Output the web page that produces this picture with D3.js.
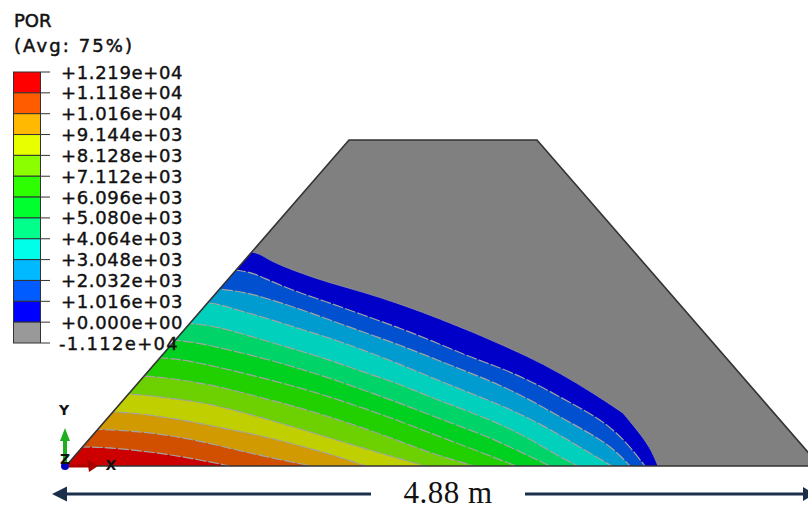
<!DOCTYPE html>
<html>
<head>
<meta charset="utf-8">
<script src="https://cdn.jsdelivr.net/npm/d3@7"></script>
<style>
  html, body { margin: 0; padding: 0; background: #fff; overflow: hidden; }
</style>
</head>
<body>
<div id="chart"></div>
<script>
// legend
const legendLabels = ["+1.219e+04", "+1.118e+04", "+1.016e+04", "+9.144e+03", "+8.128e+03", "+7.112e+03", "+6.096e+03",
  "+5.080e+03", "+4.064e+03", "+3.048e+03", "+2.032e+03", "+1.016e+03", "+0.000e+00", "-1.112e+04"];
const legendColors = ["#ff0000", "#ff5c00", "#ffb900", "#e8ff00", "#8bff00", "#2eff00", "#00ff2e",
  "#00ff8b", "#00ffe8", "#00b9ff", "#005cff", "#0000ff", "#999999"];

// shaded fill of each band on the model, from the toe upward
const bandColors = ["#cc0000", "#d05000", "#d09a00", "#c0cf00", "#6dd000", "#22d000",
  "#00d020", "#00d468", "#00d0bc", "#009ccf", "#0050cf", "#0000c8"];

// section outline, in mesh units (754 units = the 4.88 m base)
const damOutline = [[0, 0], [283, 326], [471, 326], [754, 0]];

// pore pressure contours, lowest band first
const contour1 = [[15, 19], [34, 19], [67, 16], [101, 12], [134, 6], [164, 0]];
const contour2 = [[31, 37], [67, 35], [101, 31], [134, 25], [167, 17], [201, 9], [246, 0]];
const contour3 = [[47, 55], [84, 51], [117, 46], [151, 39], [197, 30], [231, 21], [264, 12], [300, 0]];
const contour4 = [[63, 73], [101, 68], [134, 64], [164, 57], [197, 48], [231, 38], [264, 28], [297, 18], [331, 8], [359, 0]];
const contour5 = [[78, 91], [117, 86], [151, 80], [197, 68], [231, 59], [264, 49], [297, 38], [331, 26], [364, 13], [408, 0]];
const contour6 = [[95, 110], [134, 103], [164, 96], [197, 88], [231, 79], [264, 69], [297, 58], [331, 46], [364, 33], [404, 18], [450, 0]];
const contour7 = [[110, 128], [151, 119], [197, 108], [231, 98], [264, 88], [297, 76], [331, 64], [364, 51], [404, 36], [427, 27], [461, 11], [484, 0]];
const contour8 = [[125, 145], [164, 136], [197, 126], [231, 116], [264, 106], [297, 94], [331, 83], [364, 69], [404, 54], [427, 45], [461, 29], [494, 9], [512, 0]];
const contour9 = [[142, 166], [164, 158], [197, 149], [231, 138], [264, 128], [297, 116], [331, 103], [364, 89], [404, 73], [427, 64], [461, 49], [494, 31], [527, 11], [546, 0]];
const contour10 = [[155, 180], [197, 169], [231, 158], [264, 146], [297, 134], [331, 122], [364, 109], [404, 93], [427, 84], [461, 68], [494, 49], [527, 31], [548, 17], [564, 0]];
const contour11 = [[173, 200], [197, 188], [231, 174], [264, 163], [297, 151], [331, 139], [364, 126], [404, 109], [427, 101], [461, 87], [494, 69], [527, 51], [544, 39], [561, 23], [579, 0]];
const contour12 = [[188, 219], [197, 208], [231, 194], [264, 183], [297, 174], [331, 163], [364, 151], [404, 135], [427, 125], [461, 110], [494, 93], [527, 73], [557, 53], [557, 53], [571, 36], [584, 19], [592, 0]];
const contours = [contour1, contour2, contour3, contour4, contour5, contour6, contour7, contour8, contour9, contour10, contour11, contour12];

const width = 808;
const height = 510;

const x = d3.scaleLinear().domain([0, 754]).range([66, 820]);
const y = d3.scaleLinear().domain([0, 326]).range([466, 140]);

const svg = d3.select("#chart")
  .append("svg")
  .attr("width", width)
  .attr("height", height)
  .attr("viewBox", [0, 0, width, height])
  .style("display", "block")
  .style("background-color", "#fff");

const outline = d3.line().x(d => x(d[0])).y(d => y(d[1]));

svg.append("clipPath")
  .attr("id", "dam-clip")
  .append("path")
  .attr("d", outline(damOutline) + "Z");

// model
const model = svg.append("g").attr("clip-path", "url(#dam-clip)");

model.append("path")
  .attr("d", outline(damOutline) + "Z")
  .attr("fill", "#808080");

const bandArea = d3.area()
  .x(d => x(d[0]))
  .y0(y(0))
  .y1(d => y(d[1]))
  .curve(d3.curveBasis);

const contourLine = d3.line()
  .x(d => x(d[0]))
  .y(d => y(d[1]))
  .curve(d3.curveBasis);

// paint from the outermost contour inward
const order = d3.range(contours.length).reverse();

order.forEach(i => {
  const pts = [[0, contours[i][0][1]], ...contours[i]];
  model.append("path")
    .attr("d", bandArea(pts))
    .attr("fill", bandColors[i]);
});

contours.slice(0, -1).forEach(c => {
  model.append("path")
    .attr("d", contourLine([[0, c[0][1]], ...c]))
    .attr("fill", "none")
    .attr("stroke", "#a3a3a3")
    .attr("stroke-width", 1.2)
    .attr("stroke-dasharray", "11 2");
});

model.append("path")
  .attr("d", contourLine([[0, contour12[0][1]], ...contour12]))
  .attr("fill", "none")
  .attr("stroke", "#8f8f9f")
  .attr("stroke-width", 0.8);

svg.append("path")
  .attr("d", outline(damOutline) + "Z")
  .attr("fill", "none")
  .attr("stroke", "#333")
  .attr("stroke-width", 1.6);

// legend
const legendY = d3.scalePoint().domain(legendLabels).range([72, 343]);
const legend = svg.append("g");

legend.selectAll("rect")
  .data(legendColors)
  .join("rect")
  .attr("x", 13.5)
  .attr("y", (d, i) => legendY(legendLabels[i]))
  .attr("width", 27)
  .attr("height", legendY.step())
  .attr("fill", d => d)
  .attr("stroke", "#333")
  .attr("stroke-width", 1);

legend.selectAll("line")
  .data(legendLabels)
  .join("line")
  .attr("x1", 41)
  .attr("x2", 50)
  .attr("y1", d => legendY(d))
  .attr("y2", d => legendY(d))
  .attr("stroke", "#333")
  .attr("stroke-width", 1);

legend.selectAll("text")
  .data(legendLabels)
  .join("text")
  .attr("x", d => d[0] === "-" ? 59 : 61)
  .attr("y", d => legendY(d) + 6.5)
  .attr("font-family", "DejaVu Sans")
  .attr("font-size", 18)
  .attr("letter-spacing", d => d[0] === "-" ? 1.3 : 0.65)
  .attr("stroke", "#111")
  .attr("stroke-width", 0.4)
  .attr("fill", "#111")
  .text(d => d);

svg.append("text")
  .attr("x", 14).attr("y", 27)
  .attr("font-family", "DejaVu Sans").attr("font-size", 18)
  .attr("stroke", "#111").attr("stroke-width", 0.5)
  .attr("fill", "#111")
  .text("POR");

svg.append("text")
  .attr("x", 14).attr("y", 52)
  .attr("font-family", "DejaVu Sans").attr("font-size", 18)
  .attr("letter-spacing", 2.1)
  .attr("stroke", "#111").attr("stroke-width", 0.5)
  .attr("fill", "#111")
  .text("(Avg: 75%)");

// triad
const triad = svg.append("g");
triad.append("line").attr("x1", 65).attr("x2", 65).attr("y1", 464).attr("y2", 440)
  .attr("stroke", "#1fae1f").attr("stroke-width", 4);
triad.append("path").attr("d", "M65,428L60,441L70,441Z").attr("fill", "#1fae1f");
triad.append("line").attr("x1", 66).attr("x2", 90).attr("y1", 466).attr("y2", 466)
  .attr("stroke", "#b00000").attr("stroke-width", 3);
triad.append("path").attr("d", "M98,466L87,459L89,472Z").attr("fill", "#a80000");
triad.append("circle").attr("cx", 65).attr("cy", 466).attr("r", 4).attr("fill", "#0000c0");
const triadLabels = [["Y", 64, 415], ["X", 111, 470], ["Z", 65, 464]];
triad.selectAll("text")
  .data(triadLabels)
  .join("text")
  .attr("x", d => d[1])
  .attr("y", d => d[2])
  .attr("text-anchor", "middle")
  .attr("font-family", "DejaVu Sans")
  .attr("font-weight", "bold")
  .attr("font-size", 14)
  .attr("fill", "#111")
  .text(d => d[0]);

// dimension arrow
const dim = svg.append("g").attr("fill", "#1b2f4b");
dim.append("rect").attr("x", 66).attr("y", 492.5).attr("width", 305).attr("height", 3);
dim.append("rect").attr("x", 525).attr("y", 492.5).attr("width", 280).attr("height", 3);
dim.append("path").attr("d", "M52,494L67,486.5L67,501.5Z");
dim.append("path").attr("d", "M815,494L803,487L803,501Z");

svg.append("text")
  .attr("x", 448).attr("y", 503)
  .attr("text-anchor", "middle")
  .attr("font-family", "Liberation Serif")
  .attr("font-size", 31)
  .attr("letter-spacing", 0.5)
  .attr("fill", "#111")
  .text("4.88 m");
</script>
</body>
</html>
